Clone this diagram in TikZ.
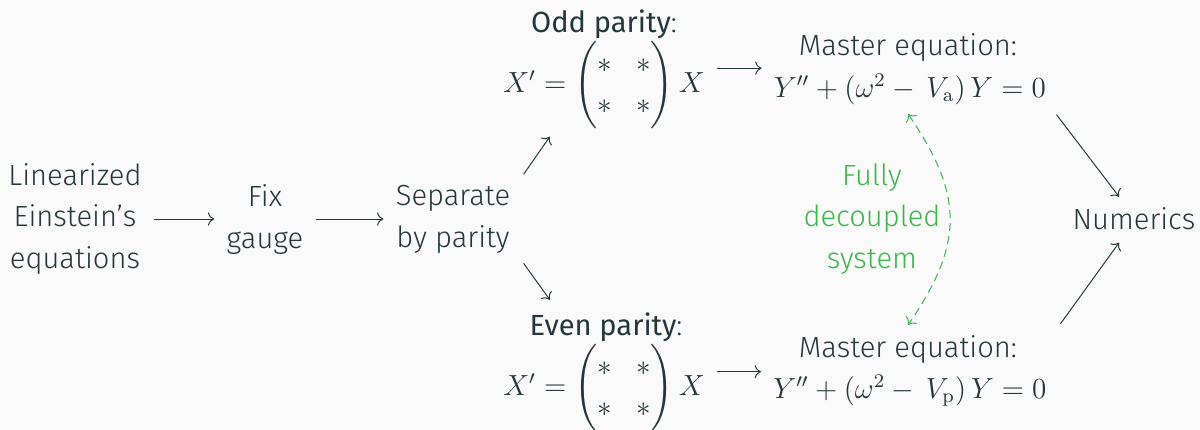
\documentclass[tikz,border=0pt]{standalone}
\usepackage{amsmath}
\usepackage[no-math]{fontspec}
\setmainfont{Fira Sans Light}
\newfontfamily\firareg{Fira Sans}
\usetikzlibrary{arrows.meta,calc}
\definecolor{fg}{HTML}{23373B}
\definecolor{bg}{HTML}{FAFAFA}
\definecolor{gr}{HTML}{3DB54A}
\tikzset{
  lbl/.style={text=fg, align=center, inner xsep=4.95pt, inner ysep=2pt, anchor=base},
  ar/.style={draw=fg, line width=0.4pt, -{Computer Modern Rightarrow[scale=1.05]}},
  gar/.style={draw=gr, line width=0.42pt, dash pattern=on 3.3pt off 2.1pt,
     {Computer Modern Rightarrow[scale=1.05]}-{Computer Modern Rightarrow[scale=1.05]}},
}
\begin{document}
\begin{tikzpicture}[x=0.412pt,y=-0.412pt,font=\fontsize{12}{16.9}\selectfont]
\fill[bg] (0,0) rectangle (1200,430);
\useasboundingbox (0,0) rectangle (1200,430);
% left chain
\node[lbl] (lin) at (75,268) {Linearized\\Einstein’s\\equations};
\node[lbl] (fix) at (265,248) {Fix\\gauge};
\node[lbl] (sep) at (453,247) {Separate\\by parity};
% odd branch
\node[lbl] (oddl) at (604,32) {{\firareg Odd parity}:};
\node[lbl] (odde) at (604,92) {$X' = \begin{pmatrix} * & * \\ * & * \end{pmatrix} X$};
\node[lbl] (mtl) at (908,55) {Master equation:};
\node[lbl] (mte) at (910,97) {$Y'' + (\omega^2 - \,V_{\mathrm{a}})\,Y = 0$};
% even branch
\node[lbl] (evl) at (606,335) {{\firareg Even parity}:};
\node[lbl] (eve) at (604,395) {$X' = \begin{pmatrix} * & * \\ * & * \end{pmatrix} X$};
\node[lbl] (mbl) at (908,357) {Master equation:};
\node[lbl] (mbe) at (910,398) {$Y'' + (\omega^2 - \,V_{\mathrm{p}})\,Y = 0$};
% decoupled
\node[lbl, text=gr] (dec) at (872,268) {Fully\\decoupled\\system};
\node[lbl] (num) at (1134,229) {Numerics};
% connectors
\draw[ar] (lin.east) -- (lin.east -| fix.west);
\draw[ar] (fix.east |- lin.east) -- (lin.east -| sep.west);
\draw[ar] ([shift={(1,-45)}]sep.east) -- ([shift={(59,52)}]odde.west);
\draw[ar] ([shift={(1,44)}]sep.east) -- ([shift={(59,-88)}]eve.west);
\draw[ar] ([yshift=6.8pt]odde.east) -- ([yshift=6.8pt]odde.east -| mte.west);
\draw[ar] ([yshift=6.6pt]eve.east) -- ([yshift=6.6pt]eve.east -| mbe.west);
\draw[ar] ([shift={(-2,5)}]mte.south east) -- ([shift={(59,-5)}]num.north west);
\draw[ar] ([shift={(31,-6)}]mbl.north east) -- ([shift={(59,8)}]num.south west);
\coordinate (gtop) at (908,114);
\coordinate (gbot) at (908,325);
\draw[gar] (gtop) .. controls (964,195) and (964,244) .. (gbot);
\end{tikzpicture}
\end{document}
